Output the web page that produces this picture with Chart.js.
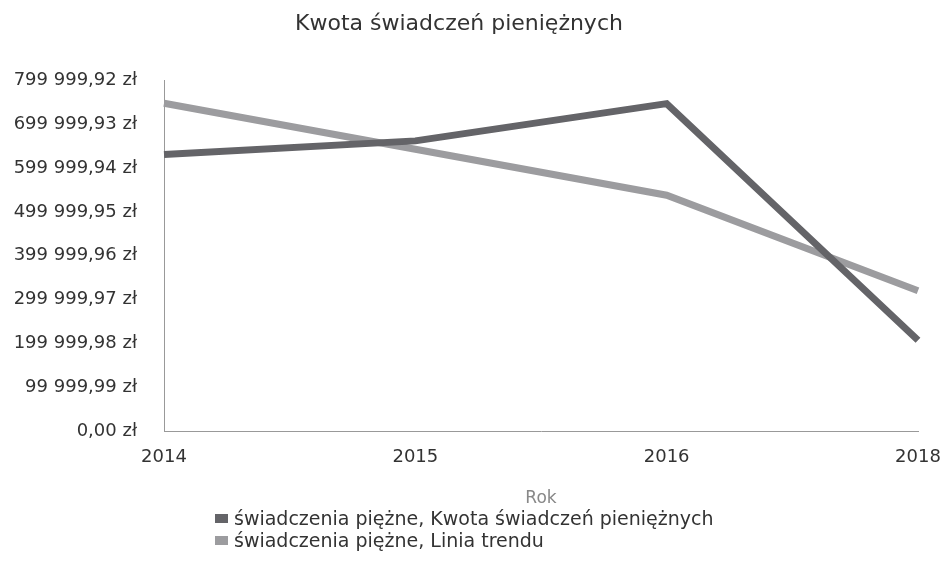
<!DOCTYPE html>
<html lang="pl">
<head>
<meta charset="utf-8">
<script src="https://cdn.jsdelivr.net/npm/chart.js@4"></script>
<style>
  html, body { margin: 0; padding: 0; background: #fff; }
  #wrap { position: relative; width: 945px; height: 582px; }
  #legend {
    position: absolute; left: 215px; top: 507px;
    font-family: 'DejaVu Sans', sans-serif; font-size: 19px; color: #333;
    line-height: 22px;
  }
  .lg-item { display: flex; align-items: center; white-space: nowrap; }
  .lg-box { width: 13px; height: 9px; margin-right: 6px; }
</style>
</head>
<body>
<div id="wrap">
  <canvas id="chart" width="945" height="582"></canvas>
  <div id="legend"></div>
</div>
<script>
// ============================================================
// DATA
// ============================================================
const years       = ['2014', '2015', '2016', '2018'];
const kwota       = [631000, 662000, 747000, 207000];
const liniaTrendu = [748000, 643000, 538000, 320000];
const yTicks      = [0, 99999.99, 199999.98, 299999.97, 399999.96, 499999.95, 599999.94, 699999.93, 799999.92];

const seriesNames = [
  'świadczenia piężne, Kwota świadczeń pieniężnych',
  'świadczenia piężne, Linia trendu'
];
const seriesColors = ['#646468', '#9c9c9f'];

// ============================================================
// HELPERS
// ============================================================
function fmtZl(v) {
  const [int, dec] = v.toFixed(2).split('.');
  return int.replace(/\B(?=(\d{3})+(?!\d))/g, ' ') + ',' + dec + ' zł';
}

function buildLegend(chart) {
  const el = document.getElementById('legend');
  el.innerHTML = chart.data.datasets.map(ds => `
    <div class="lg-item"><span class="lg-box" style="background:${ds.borderColor}"></span>${ds.label}</div>`
  ).join('');
}

// ============================================================
// CHART
// ============================================================
const FONT = 'DejaVu Sans';

const chart = new Chart(document.getElementById('chart'), {
  type: 'line',
  data: {
    labels: years,
    datasets: [
      {
        label: seriesNames[0],
        data: kwota,
        borderColor: seriesColors[0],
        borderWidth: 7,
        borderJoinStyle: 'miter',
        pointRadius: 0,
        tension: 0,
      },
      {
        label: seriesNames[1],
        data: liniaTrendu,
        borderColor: seriesColors[1],
        borderWidth: 7,
        borderJoinStyle: 'miter',
        pointRadius: 0,
        tension: 0,
      }
    ]
  },
  options: {
    responsive: false,
    animation: false,
    layout: { padding: { left: 0, right: 27, top: 0, bottom: 73 } },
    plugins: {
      legend: { display: false },
      tooltip: { enabled: false },
      title: {
        display: true,
        text: 'Kwota świadczeń pieniężnych',
        color: '#333',
        font: { family: FONT, size: 22, weight: 'normal', lineHeight: 1.2 },
        padding: { top: 11, bottom: 43 }
      }
    },
    scales: {
      x: {
        type: 'category',
        offset: false,
        grid: { display: false, drawTicks: false },
        border: { display: true, color: '#999', width: 1, dash: [1, 1] },
        ticks: { color: '#333', font: { family: FONT, size: 18 }, padding: 16, maxRotation: 0 },
        title: {
          display: true, text: 'Rok', color: '#888',
          font: { family: FONT, size: 17, lineHeight: 1.2 }, padding: { top: 4, bottom: 0 }
        },
        afterFit: s => { s.paddingLeft = 0; s.paddingRight = 0; }
      },
      y: {
        min: 0,
        max: yTicks[yTicks.length - 1],
        grid: { display: false, drawTicks: false },
        border: { display: true, color: '#999', width: 1, dash: [1, 1] },
        ticks: { color: '#333', font: { family: FONT, size: 18 }, padding: 27, callback: v => fmtZl(v) },
        afterBuildTicks: s => { s.ticks = yTicks.map(v => ({ value: v })); },
        afterFit: s => { s.width = 164; }
      }
    }
  }
});

buildLegend(chart);
</script>
</body>
</html>
